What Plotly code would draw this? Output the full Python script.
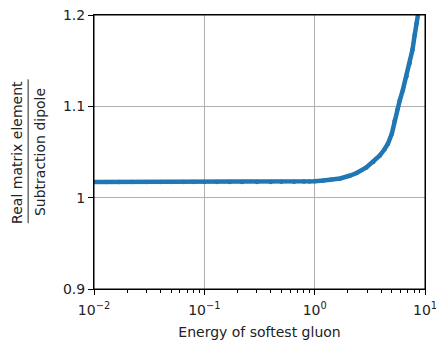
import plotly.graph_objects as go

# Energy of softest gluon (x) and ratio real ME / subtraction dipole (y)
energy = [0.010, 0.013, 0.017, 0.022, 0.03, 0.04, 0.05, 0.065, 0.08, 0.1, 0.13, 0.17,
          0.22, 0.3, 0.4, 0.5, 0.65, 0.8, 0.9, 1.0, 1.2, 1.4, 1.7, 2.07, 2.4, 2.94,
          3.4, 3.88, 4.3, 4.61, 5.0, 5.3, 5.6, 5.89, 6.3, 6.8, 7.25, 7.7, 8.06, 8.4, 8.63]
ratio = [1.0172, 1.0172, 1.0172, 1.0172, 1.0172, 1.0172, 1.0172, 1.0172, 1.0172, 1.0172,
         1.0172, 1.0172, 1.0172, 1.0172, 1.0172, 1.0173, 1.0174, 1.0176, 1.0178, 1.0181,
         1.0188, 1.0196, 1.021, 1.024, 1.027, 1.033, 1.039, 1.046, 1.053, 1.059, 1.070,
         1.084, 1.096, 1.106, 1.118, 1.133, 1.147, 1.162, 1.178, 1.191, 1.2]

x_ticks = [0.01, 0.1, 1, 10]
x_tick_text = ["10<sup>−2</sup>", "10<sup>−1</sup>", "10<sup>0</sup>", "10<sup>1</sup>"]
y_ticks = [0.9, 1.0, 1.1, 1.2]
y_tick_text = ["0.9", "1", "1.1", "1.2"]
minor_x = [m * d for d in (0.01, 0.1, 1) for m in range(2, 10)]

font = "DejaVu Sans, sans-serif"
fig = go.Figure()
fig.add_trace(go.Scatter(
    x=energy, y=ratio, mode="lines+markers",
    line=dict(color="#1f77b4", width=4.5),
    marker=dict(color="#1f77b4", size=4.5),
    showlegend=False, cliponaxis=True,
))

fig.update_layout(
    width=436, height=344,
    margin=dict(l=94, r=11, t=15, b=55),
    plot_bgcolor="white", paper_bgcolor="white",
    font=dict(family=font, size=13, color="#222"),
    xaxis=dict(
        type="log", range=[-2, 1], tickvals=x_ticks, ticktext=x_tick_text,
        ticks="outside", ticklen=5, tickcolor="black", automargin=False,
        ticklabeloverflow="allow", ticklabelstandoff=3,
        showline=True, linecolor="black", linewidth=1, mirror=True,
        showgrid=True, gridcolor="#b0b0b0", gridwidth=1, zeroline=False,
        minor=dict(tickvals=minor_x, ticks="outside", ticklen=3,
                   tickcolor="black", showgrid=False),
        title=dict(text="Energy of softest gluon", font=dict(size=14), standoff=10),
        tickfont=dict(size=14),
    ),
    yaxis=dict(
        range=[0.9, 1.2], tickvals=y_ticks, ticktext=y_tick_text,
        ticks="outside", ticklen=5, tickcolor="black", automargin=False,
        ticklabeloverflow="allow",
        showline=True, linecolor="black", linewidth=1, mirror=True,
        showgrid=True, gridcolor="#b0b0b0", gridwidth=1, zeroline=False,
        tickfont=dict(size=14),
    ),
)

# frame
fig.add_shape(type="rect", xref="paper", yref="paper", x0=0, x1=1, y0=0, y1=1,
              line=dict(color="black", width=1), layer="above")

# fractional y-axis label
fig.add_annotation(text="Real matrix element", xref="paper", yref="paper",
                   x=-0.233, y=0.5, xanchor="center", yanchor="middle",
                   textangle=-90, showarrow=False, font=dict(size=14))
fig.add_annotation(text="Subtraction dipole", xref="paper", yref="paper",
                   x=-0.163, y=0.5, xanchor="center", yanchor="middle",
                   textangle=-90, showarrow=False, font=dict(size=14))
fig.add_shape(type="line", xref="paper", yref="paper",
              x0=-0.199, x1=-0.199, y0=0.24, y1=0.765,
              line=dict(color="#222", width=1))

fig.write_html("out.html")
